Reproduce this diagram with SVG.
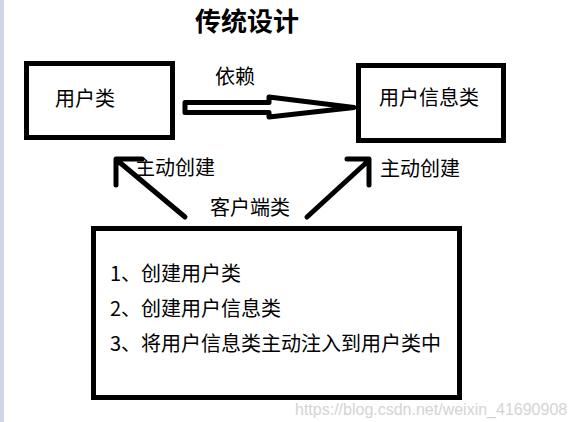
<svg xmlns="http://www.w3.org/2000/svg" width="576" height="422" viewBox="0 0 576 422">
<style>
.box{fill:#fff;stroke:#000;stroke-width:5}
.t{font-family:"Noto Sans CJK SC","Liberation Sans",sans-serif;font-size:20px;fill:#000}
.ttl{font-family:"Noto Sans CJK SC","Liberation Sans",sans-serif;font-size:26px;font-weight:bold;fill:#000}
.ln{fill:none;stroke:#000;stroke-width:5;stroke-linecap:round;stroke-linejoin:round}
</style>
<rect x="0" y="0" width="576" height="422" fill="#fff"/>
<rect x="0" y="0" width="4" height="422" fill="#cfd7e6"/>
<text class="ttl" x="195" y="31">传统设计</text>
<g id="user">
<rect class="box" x="26.5" y="63.5" width="146" height="74"/>
<text class="t" x="55" y="106">用户类</text>
</g>
<g id="userinfo">
<rect class="box" x="358.5" y="65.5" width="145" height="75"/>
<text class="t" x="379" y="105">用户信息类</text>
</g>
<g id="client">
<rect class="box" x="93.5" y="228.5" width="366" height="169"/>
<text class="t" x="110" y="281">1、创建用户类</text>
<text class="t" x="110" y="316">2、创建用户信息类</text>
<text class="t" x="110" y="351">3、将用户信息类主动注入到用户类中</text>
</g>
<g id="connectors">
<polygon class="ln" points="185,102.5 269,102.5 269,97 354,107.5 269,117 269,112.5 185,112.5" stroke-width="4.5"/>
<text class="t" x="215" y="84">依赖</text>
<path class="ln" d="M185,217 L118,161 M142,159 L116,159 L116,185"/>
<path class="ln" d="M307,217 L367,162 M347,159 L369,159 L369,185"/>
<text class="t" x="135" y="175">主动创建</text>
<text class="t" x="380" y="176">主动创建</text>
<text class="t" x="210" y="215">客户端类</text>
</g>
<text x="295" y="415" font-family="Liberation Sans, Arial, sans-serif" font-size="16" fill="#d4d4d4">https://blog.csdn.net/weixin_41690908</text>
</svg>
